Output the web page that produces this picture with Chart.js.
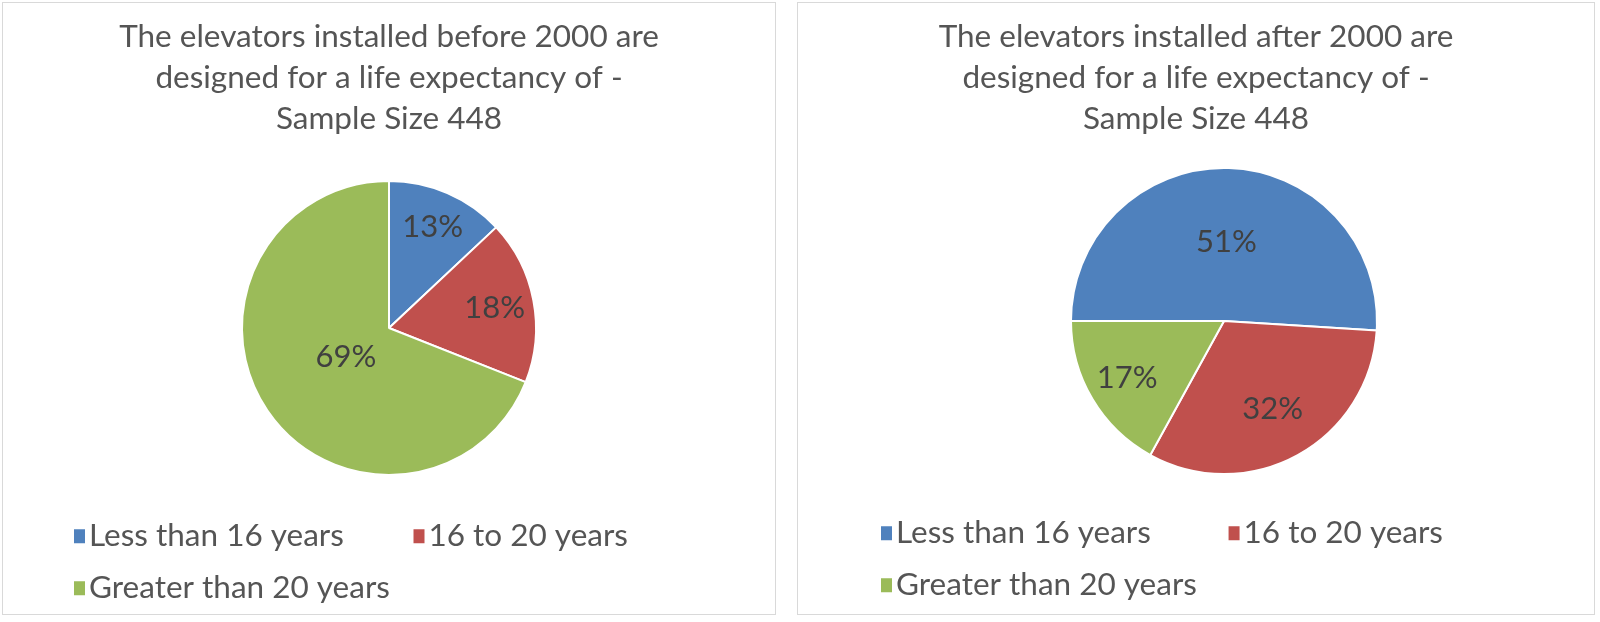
<!DOCTYPE html>
<html>
<head>
<meta charset="utf-8">
<script src="https://cdn.jsdelivr.net/npm/chart.js@4/dist/chart.umd.min.js"></script>
<style>
  html, body { margin: 0; padding: 0; background: #fff; }
  body { width: 1600px; height: 622px; position: relative; overflow: hidden; }
  .panel { position: absolute; top: 2px; height: 611px; border: 1px solid #d9d9d9; background: #fff; }
  #p1 { left: 2px; width: 772px; }
  #p2 { left: 797px; width: 796px; }
  .panel canvas { display: block; }
</style>
</head>
<body>
<div class="panel" id="p1"><canvas id="before" width="772" height="611"></canvas></div>
<div class="panel" id="p2"><canvas id="after" width="796" height="611"></canvas></div>
<script>
const categories = ['Less than 16 years', '16 to 20 years', 'Greater than 20 years'];
const beforeValues = [13, 18, 69];
const afterValues = [51, 32, 17];
const sliceColors = ['#4F81BD', '#C0504D', '#9BBB59'];
const beforeTitle = ['The elevators installed before 2000 are', 'designed for a life expectancy of -', 'Sample Size 448'];
const afterTitle = ['The elevators installed after 2000 are', 'designed for a life expectancy of -', 'Sample Size 448'];

const fontFamily = 'Lato, "Open Sans", sans-serif';
const textColor = '#555555';
const legendSize = 31.5;
const legendGap = 20.5;

// percentage labels inside the slices, a bit outside the slice centroid
const sliceLabels = {
  id: 'sliceLabels',
  afterDatasetsDraw(chart) {
    const ctx = chart.ctx;
    const values = chart.data.datasets[0].data;
    ctx.save();
    ctx.font = '31px ' + fontFamily;
    ctx.fillStyle = '#404040';
    ctx.textAlign = 'center';
    ctx.textBaseline = 'middle';
    chart.getDatasetMeta(0).data.forEach((arc, i) => {
      const p = arc.getProps(['x', 'y', 'startAngle', 'endAngle', 'outerRadius'], true);
      const theta = p.endAngle - p.startAngle;
      const mid = (p.startAngle + p.endAngle) / 2;
      const k = 4 * Math.sin(theta / 2) / (3 * theta) + 0.1;
      ctx.fillText(values[i] + '%', p.x + Math.cos(mid) * p.outerRadius * k, p.y + Math.sin(mid) * p.outerRadius * k);
    });
    ctx.restore();
  }
};

// moves the pie sideways without moving title/legend
const shiftPie = {
  id: 'shiftPie',
  afterLayout(chart, args, opts) {
    const dx = opts.dx || 0;
    chart.chartArea.left += dx;
    chart.chartArea.right += dx;
  }
};

// small squares close to the legend text (Excel style)
const legendSquares = {
  id: 'legendSquares',
  afterDraw(chart) {
    const legend = chart.legend;
    if (!legend || !legend.legendHitBoxes) return;
    const ctx = chart.ctx;
    ctx.save();
    legend.legendItems.forEach((item, i) => {
      const hb = legend.legendHitBoxes[i];
      const textX = hb.left + legendSize / 2;
      ctx.fillStyle = item.markerColor;
      ctx.fillRect(textX - 15, hb.top + legendSize / 2 - 7, 11, 14);
    });
    ctx.restore();
  }
};

function render_pie(canvas_id, values, title, opts) {
  const ctx = document.getElementById(canvas_id).getContext('2d');
  return new Chart(ctx, {
    type: 'pie',
    data: {
      labels: categories,
      datasets: [{
        data: values,
        backgroundColor: sliceColors,
        borderColor: '#ffffff',
        borderWidth: 2,
        radius: opts.radius,
        clip: false
      }]
    },
    options: {
      responsive: false,
      animation: false,
      events: [],
      rotation: opts.rotation,
      layout: { padding: opts.padding },
      plugins: {
        title: {
          display: true,
          text: title,
          color: textColor,
          font: { family: fontFamily, size: 31.5, weight: 'normal', lineHeight: '41px' },
          padding: opts.titlePadding
        },
        legend: {
          display: true,
          position: 'bottom',
          align: 'start',
          labels: {
            color: textColor,
            font: { family: fontFamily, size: legendSize },
            boxWidth: 0,
            boxHeight: 1,
            padding: legendGap,
            generateLabels(chart) {
              const c = chart.ctx;
              c.save();
              c.font = legendSize + 'px ' + fontFamily;
              // first column items are widened so the columns line up like Excel
              const target = opts.column - legendSize / 2 - legendGap;
              const items = chart.data.labels.map((label, i) => {
                let text = label;
                if (i % 2 === 0) {
                  while (c.measureText(text).width < target) text += ' ';
                }
                return {
                  text: text,
                  fillStyle: 'rgba(0,0,0,0)',
                  strokeStyle: 'rgba(0,0,0,0)',
                  lineWidth: 0,
                  fontColor: textColor,
                  markerColor: sliceColors[i],
                  hidden: false,
                  index: i
                };
              });
              c.restore();
              return items;
            }
          }
        },
        tooltip: { enabled: false },
        shiftPie: { dx: opts.dx }
      }
    },
    plugins: [sliceLabels, shiftPie, legendSquares]
  });
}

render_pie('before', beforeValues, beforeTitle, {
  rotation: 0,
  radius: 147,
  padding: { left: 49.75, right: 49.75, top: 0, bottom: 0 },
  titlePadding: { top: 13, bottom: 17 },
  column: 333,
  dx: 0
});

render_pie('after', afterValues, afterTitle, {
  rotation: -90,
  radius: 153,
  padding: { left: 61.75, right: 61.75, top: 0, bottom: 3 },
  titlePadding: { top: 13, bottom: 6 },
  column: 344,
  dx: 28
});
</script>
</body>
</html>
